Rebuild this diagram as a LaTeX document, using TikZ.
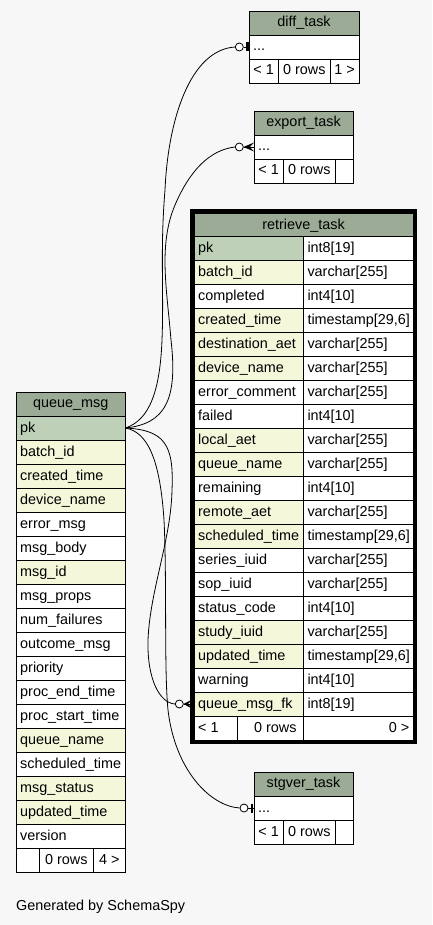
\documentclass[tikz,border=0pt]{standalone}
\usepackage{fontspec}
\setmainfont{Liberation Sans}
\definecolor{bgc}{HTML}{F7F7F7}
\definecolor{hdr}{HTML}{9BAB96}
\definecolor{pkc}{HTML}{BED1B8}
\definecolor{idx}{HTML}{F4F7DA}
\newcommand{\cellfont}{\fontsize{14.4}{17}\selectfont}
\tikzset{
  cellbox/.style={draw=black, line width=0.9pt, anchor=north west, inner sep=0pt, outer sep=0pt},
  ctext/.style={anchor=base west, inner sep=0pt, font=\cellfont},
  ctextc/.style={anchor=base, inner sep=0pt, font=\cellfont},
  ctextr/.style={anchor=base east, inner sep=0pt, font=\cellfont},
  conn/.style={draw=black, line width=0.8pt},
  optc/.style={circle, draw=black, fill=white, line width=0.8pt, minimum size=8pt, inner sep=0pt},
}
% name, x, ytop, width, height, fill, text
\newcommand{\cellL}[7]{\node[cellbox, fill=#6, minimum width=#4pt, minimum height=#5pt] (#1) at (#2,#3) {};
  \node[ctext] at ([xshift=4pt,yshift=-16pt]#1.north west) {#7};}
\newcommand{\cellC}[7]{\node[cellbox, fill=#6, minimum width=#4pt, minimum height=#5pt] (#1) at (#2,#3) {};
  \node[ctextc] at ([yshift=-16pt]#1.north) {#7};}
\newcommand{\cellH}[7]{\node[cellbox, fill=#6, minimum width=#4pt, minimum height=#5pt] (#1) at (#2,#3) {};
  \node[ctextc] at ([yshift=-15.5pt]#1.north) {#7};}
\begin{document}
\begin{tikzpicture}[x=1pt, y=-1pt]
\useasboundingbox (0,0) rectangle (432,925);
\fill[bgc] (0,0) rectangle (432,925);

% ---------------- diff_task
\cellH{dt-h}{249}{11}{110}{24}{hdr}{diff\_task}
\cellL{dt-r}{249}{35}{110}{24}{white}{...}
\cellC{dt-f1}{249}{59}{29.3}{24}{white}{< 1}
\cellC{dt-f2}{278.3}{59}{52}{24}{white}{0 rows}
\cellC{dt-f3}{330.3}{59}{28.7}{24}{white}{1 >}

% ---------------- export_task
\cellH{et-h}{254}{111}{99}{24}{hdr}{export\_task}
\cellL{et-r}{254}{135}{99}{24}{white}{...}
\cellC{et-f1}{254}{159}{29.3}{24}{white}{< 1}
\cellC{et-f2}{283.3}{159}{52}{24}{white}{0 rows}
\cellC{et-f3}{335.3}{159}{17.7}{24}{white}{}

% ---------------- stgver_task
\cellH{st-h}{254}{772}{99}{24}{hdr}{stgver\_task}
\cellL{st-r}{254}{796}{99}{24}{white}{...}
\cellC{st-f1}{254}{820}{29.3}{24}{white}{< 1}
\cellC{st-f2}{283.3}{820}{52}{24}{white}{0 rows}
\cellC{st-f3}{335.3}{820}{17.7}{24}{white}{}

% ---------------- queue_msg
\cellH{qm-h}{16}{392}{109.3}{24}{hdr}{queue\_msg}
\foreach \cname/\cfill [count=\i from 0, evaluate=\i as \yy using 416+24*\i] in {
  pk/pkc, batch\_id/idx, created\_time/idx, device\_name/idx, error\_msg/white,
  msg\_body/white, msg\_id/idx, msg\_props/white, num\_failures/white,
  outcome\_msg/white, priority/white, proc\_end\_time/white, proc\_start\_time/white,
  queue\_name/idx, scheduled\_time/white, msg\_status/idx, updated\_time/idx, version/white}
{ \cellL{qm-\i}{16}{\yy}{109.3}{24}{\cfill}{\cname} }
\cellL{qm-f1}{16}{848}{23.3}{24}{white}{}
\cellC{qm-f2}{39.3}{848}{54}{24}{white}{0 rows}
\cellC{qm-f3}{93.3}{848}{32}{24}{white}{4 >}

% ---------------- retrieve_task
\node[cellbox, fill=hdr, minimum width=219pt, minimum height=23pt] (rt-h) at (194,213) {};
\node[ctextc] at ([yshift=-16.5pt]rt-h.north) {retrieve\_task};
\foreach \cname/\ctype/\cfill [count=\i from 0, evaluate=\i as \yy using 236+24*\i] in {
  pk/{int8[19]}/pkc, batch\_id/{varchar[255]}/idx, completed/{int4[10]}/white,
  created\_time/{timestamp[29,6]}/idx, destination\_aet/{varchar[255]}/idx,
  device\_name/{varchar[255]}/idx, error\_comment/{varchar[255]}/white,
  failed/{int4[10]}/white, local\_aet/{varchar[255]}/idx, queue\_name/{varchar[255]}/idx,
  remaining/{int4[10]}/white, remote\_aet/{varchar[255]}/idx,
  scheduled\_time/{timestamp[29,6]}/idx, series\_iuid/{varchar[255]}/white,
  sop\_iuid/{varchar[255]}/white, status\_code/{int4[10]}/white,
  study\_iuid/{varchar[255]}/idx, updated\_time/{timestamp[29,6]}/idx,
  warning/{int4[10]}/white, queue\_msg\_fk/{int8[19]}/idx}
{ \cellL{rt-\i-a}{194}{\yy}{109.3}{24}{\cfill}{\cname}
  \cellL{rt-\i-b}{303.3}{\yy}{109.7}{24}{white}{\ctype} }
\cellL{rt-f1}{194}{716}{43.7}{24}{white}{< 1}
\node[cellbox, fill=white, minimum width=65.6pt, minimum height=24pt] (rt-f2) at (237.7,716) {};
\node[ctextr] at ([xshift=-6.5pt,yshift=-16pt]rt-f2.north east) {0 rows};
\node[cellbox, fill=white, minimum width=109.7pt, minimum height=24pt] (rt-f3) at (303.3,716) {};
\node[ctextr] at ([xshift=-3.5pt,yshift=-16pt]rt-f3.north east) {0 >};
\node[draw=black, line width=3.5pt, minimum width=223pt, minimum height=531pt,
      anchor=north west, inner sep=0pt, outer sep=0pt] (rt) at (192,211) {};

% ---------------- connectors
% to diff_task (zero or one)
\node[optc] (o1) at (239.3,47) {};
\draw[conn] (qm-0.east) .. controls (150,420) and (160,390) .. (162,340)
  .. controls (164,290) and (160,250) .. (165,190)
  .. controls (168,120) and (190,50) .. (o1.west);
\draw[conn] (o1.east) -- (dt-r.west);
\fill (246,42.5) rectangle (248.8,51.5);

% to export_task (zero or many)
\node[optc] (o2) at (239.3,147) {};
\draw[conn] (qm-0.east) .. controls (165,424) and (178,400) .. (171,340)
  .. controls (167,290) and (158,245) .. (175,205)
  .. controls (190,170) and (210,150) .. (o2.west);
\draw[conn] (o2.east) -- (et-r.west);
\fill (243.3,147) -- (254,142.6) -- (249.8,147) -- (254,151.4) -- cycle;

% to retrieve_task.queue_msg_fk (zero or many)
\node[optc] (o3) at (179.3,704) {};
\draw[conn] (qm-0.east) .. controls (165,430) and (174,445) .. (172,490)
  .. controls (171,540) and (150,590) .. (148,640)
  .. controls (147,680) and (160,703) .. (o3.west);
\draw[conn] (o3.east) -- (rt-19-a.west);
\fill (183.3,704) -- (192,699.6) -- (188,704) -- (192,708.4) -- cycle;

% to stgver_task (zero or one)
\node[optc] (o4) at (244,808) {};
\draw[conn] (qm-0.east) .. controls (148,432) and (160,460) .. (164,520)
  .. controls (167,580) and (164,670) .. (168,710)
  .. controls (175,770) and (210,806) .. (o4.west);
\draw[conn] (o4.east) -- (st-r.west);
\fill (250.5,803.5) rectangle (253.3,812.5);

% ---------------- footer text
\node[ctext] (gen) at (16,910) {Generated by SchemaSpy};
\end{tikzpicture}
\end{document}
